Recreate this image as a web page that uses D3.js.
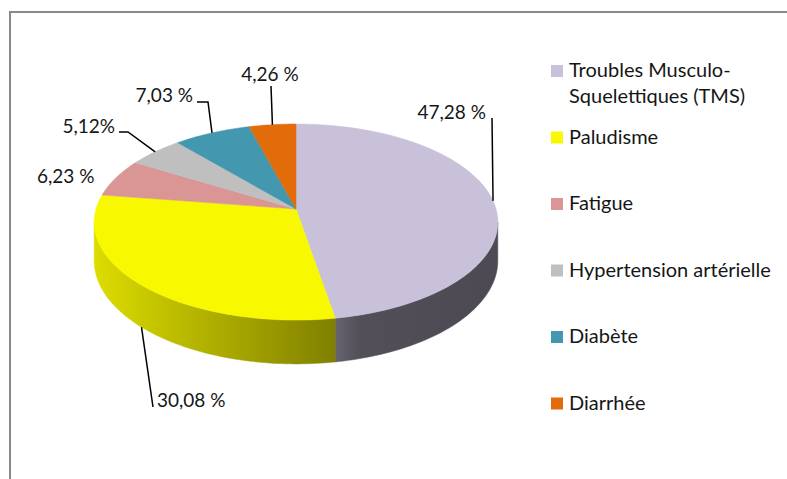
<!DOCTYPE html>
<html>
<head>
<meta charset="utf-8">
<script src="https://cdn.jsdelivr.net/npm/d3@7"></script>
<style>
  body { margin: 0; background: #fff; }
  svg { display: block; }
  text { font-family: Lato, "Open Sans", sans-serif; fill: #161616; }
</style>
</head>
<body>
<svg id="chart" width="787" height="479"></svg>
<script>
// data
var categories = ["Troubles Musculo-Squelettiques (TMS)", "Paludisme", "Fatigue", "Hypertension artérielle", "Diabète", "Diarrhée"];
var percentages = [47.28, 30.08, 6.23, 5.12, 7.03, 4.26];
var valueLabels = ["47,28 %", "30,08 %", "6,23 %", "5,12%", "7,03 %", "4,26 %"];
var colors = ["#C9C0D9", "#F8F800", "#D99694", "#BFBFBF", "#4397AE", "#E26B0A"];

// label placement (layout only): text position, anchor, leader elbows
var labelLayout = [
    { x: 486, y: 119, anchor: "end", leader: [[492, 118]] },
    { x: 157, y: 407, anchor: "start", leader: [[153, 407]] },
    { x: 37, y: 183, anchor: "start", leader: [] },
    { x: 115, y: 133, anchor: "end", leader: [[128, 132], [119, 132]] },
    { x: 193, y: 102, anchor: "end", leader: [[208, 102], [197, 102]] },
    { x: 270, y: 81, anchor: "middle", leader: [[271, 86]] }
];

var svg = d3.select("#chart");

// chart frame
svg.append("rect")
    .attr("x", 10).attr("y", 12)
    .attr("width", 900).attr("height", 900)
    .attr("fill", "none")
    .attr("stroke", "#898989")
    .attr("stroke-width", 2);

// 3d pie: tilted disc with a bit of perspective
var cx = 296, cy = 209, depth = 38, persp = 0.133;
var xScale = d3.scaleLinear().domain([-1, 1]).range([cx - 200, cx + 200]);
var yScale = d3.scaleLinear().domain([-1, 1]).range([cy - 96.3, cy + 96.3]);

function project(phi, r, h) {
    var X = r * Math.sin(phi), Z = -r * Math.cos(phi);
    var s = 1 / (1 - persp * Z);
    return [xScale(X * s), yScale(Z * s) + depth * h * s];
}

function arcPoints(a0, a1, h) {
    var n = Math.max(2, Math.ceil((a1 - a0) / 0.02));
    return d3.range(n + 1).map(function (i) {
        return project(a0 + (a1 - a0) * i / n, 1, h);
    });
}

var pie = d3.pie().sort(null).value(function (d) { return d; });
var slices = pie(percentages);
var line = d3.line();

// side shading, darker toward the right
var shadeX = [93, 200, 333, 360, 499];
var shadeF = [0.89, 0.72, 0.52, 0.41, 0.38];
var defs = svg.append("defs");
slices.forEach(function (d, i) {
    var c = d3.rgb(colors[i]);
    var g = defs.append("linearGradient")
        .attr("id", "side" + i)
        .attr("gradientUnits", "userSpaceOnUse")
        .attr("x1", shadeX[0]).attr("x2", shadeX[shadeX.length - 1])
        .attr("y1", 0).attr("y2", 0);
    shadeX.forEach(function (x, j) {
        g.append("stop")
            .attr("offset", (x - shadeX[0]) / (shadeX[shadeX.length - 1] - shadeX[0]))
            .attr("stop-color", d3.rgb(c.r * shadeF[j], c.g * shadeF[j], c.b * shadeF[j]));
    });
});

// visible outer wall lies between the two silhouette angles
var phiMin = Math.acos(-persp), phiMax = 2 * Math.PI - phiMin;

svg.append("g").selectAll("path")
    .data(slices.filter(function (d) { return d.endAngle > phiMin && d.startAngle < phiMax; }))
    .join("path")
    .attr("d", function (d) {
        var a0 = Math.max(d.startAngle, phiMin), a1 = Math.min(d.endAngle, phiMax);
        var pts = arcPoints(a0, a1, 0).concat(arcPoints(a0, a1, 1).reverse());
        return line(pts) + "Z";
    })
    .attr("fill", function (d) { return "url(#side" + d.index + ")"; })
    .attr("stroke", function (d) { return "url(#side" + d.index + ")"; })
    .attr("stroke-width", 0.5);

svg.append("g").selectAll("path")
    .data(slices)
    .join("path")
    .attr("d", function (d) {
        return line([project(0, 0, 0)].concat(arcPoints(d.startAngle, d.endAngle, 0))) + "Z";
    })
    .attr("fill", function (d, i) { return colors[i]; })
    .attr("stroke", function (d, i) { return colors[i]; })
    .attr("stroke-width", 0.5);

// leader lines and value labels
var labels = svg.append("g");
slices.forEach(function (d, i) {
    var lay = labelLayout[i];
    var mid = (d.startAngle + d.endAngle) / 2;
    var onFront = -Math.cos(mid) > persp;
    if (lay.leader.length) {
        labels.append("path")
            .attr("d", line([project(mid, 1, onFront ? 1 : 0)].concat(lay.leader)))
            .attr("fill", "none")
            .attr("stroke", "#000")
            .attr("stroke-width", 1.5);
    }
    labels.append("text")
        .attr("x", lay.x).attr("y", lay.y)
        .attr("text-anchor", lay.anchor)
        .style("font-size", "19px")
        .text(valueLabels[i]);
});

// legend
var legendY = d3.scaleLinear().domain([0, 1]).range([65, 131.5]);
var legend = svg.append("g").selectAll("g")
    .data(categories)
    .join("g")
    .attr("transform", function (d, i) { return "translate(551," + legendY(i) + ")"; });

legend.append("rect")
    .attr("width", 12).attr("height", 12)
    .attr("fill", function (d, i) { return colors[i]; });

legend.append("text")
    .attr("x", 18)
    .attr("y", 12)
    .style("font-size", "20px")
    .selectAll("tspan")
    .data(function (d) { return d.split(/(?<=-)/); })
    .join("tspan")
    .attr("x", 18)
    .attr("dy", function (d, j) { return j ? 26 : 0; })
    .text(function (d) { return d; });
</script>
</body>
</html>
